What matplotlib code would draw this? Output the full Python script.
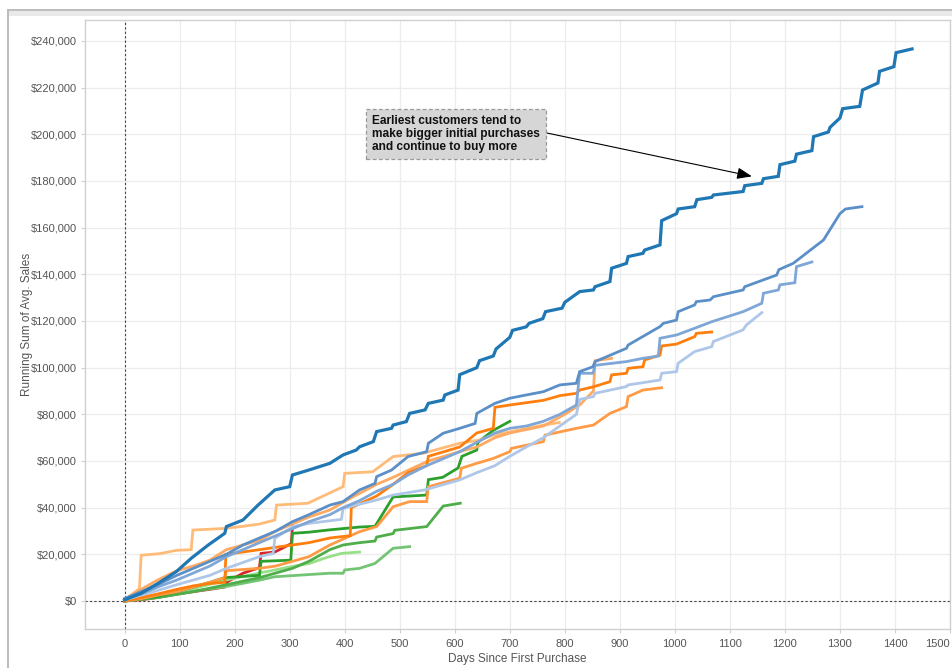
import matplotlib
matplotlib.use("Agg")
import matplotlib.pyplot as plt
from matplotlib.ticker import FuncFormatter
from matplotlib.patches import Rectangle

plt.rcParams['font.family'] = ['Liberation Sans', 'DejaVu Sans']

# Running sum of average sales per customer cohort, (days since first purchase, $ thousands)
cohort_01 = [(0, 0.5), (30, 3.3), (61, 7.6), (94, 12.6), (121, 18.3), (152, 24), (182, 29), (185, 31.9),
             (215, 34.7), (242, 41), (273, 47.6), (300, 49), (305, 54), (333, 56), (373, 59), (397, 62.6),
             (421, 64.7), (427, 66.1), (452, 68.3), (458, 72.6), (485, 74), (488, 75.4), (512, 76.9),
             (518, 80.4), (546, 81.9), (552, 84.7), (579, 86.1), (582, 88.3), (606, 90.4), (609, 97),
             (640, 100), (645, 103), (670, 105), (675, 108), (700, 113), (705, 116), (730, 117.5),
             (735, 119), (760, 121), (765, 124), (795, 125.5), (800, 128), (827, 132.6), (852, 133.3),
             (855, 134.7), (882, 136.9), (885, 142.6), (912, 144.7), (915, 147.6), (942, 149), (945, 150.4),
             (973, 152.6), (976, 163), (1003, 166), (1006, 168), (1036, 169), (1040, 172), (1067, 173),
             (1070, 174), (1124, 175.5), (1127, 178), (1158, 179), (1161, 181), (1188, 182), (1191, 187),
             (1218, 188.5), (1221, 191.5), (1249, 193), (1252, 199), (1279, 201), (1282, 203), (1300, 207),
             (1305, 211), (1336, 212), (1341, 219), (1369, 222), (1372, 227), (1398, 229), (1402, 235),
             (1431, 236.6)]
cohort_02 = [(0, 1), (30, 4), (60, 7), (95, 11), (125, 14), (155, 17), (185, 20), (215, 24), (245, 27),
             (275, 30), (305, 34), (335, 37), (373, 41.1), (397, 42.6), (427, 47.6), (455, 50.4),
             (458, 53.3), (485, 56.1), (515, 61.9), (549, 64), (552, 67.6), (579, 71.9), (609, 74),
             (637, 76.1), (640, 80.4), (673, 84.7), (700, 86.9), (730, 88.3), (761, 89.7), (791, 92.6),
             (821, 93.3), (827, 98.3), (851, 100.4), (855, 102.6), (912, 108.3), (915, 109.7), (973, 117.6),
             (979, 119), (1003, 120.4), (1006, 124), (1036, 126.9), (1039, 128.3), (1064, 129),
             (1070, 130.4), (1124, 133.3), (1127, 134.7), (1185, 139.7), (1189, 142), (1215, 144.7),
             (1270, 154.7), (1300, 166), (1310, 168), (1340, 169)]
cohort_03 = [(0, 1), (30, 3), (60, 6), (95, 9), (125, 12), (155, 15), (185, 19), (215, 22), (245, 25),
             (275, 28), (305, 31), (335, 34), (373, 37), (397, 40), (427, 43), (458, 47), (488, 50),
             (515, 54), (549, 58), (579, 61), (609, 64), (640, 68), (673, 72), (700, 74), (730, 75),
             (761, 77), (791, 80), (821, 84), (827, 97.6), (851, 97.6), (855, 101), (912, 102.6),
             (942, 104), (970, 105), (973, 112.6), (1003, 114), (1036, 116.9), (1067, 119.7), (1124, 124),
             (1158, 127.6), (1161, 131.9), (1188, 133.3), (1191, 135.5), (1218, 136.4), (1221, 143.3),
             (1249, 145.3)]
cohort_04 = [(0, 0.5), (30, 2.5), (60, 4.5), (95, 7), (125, 9), (155, 11), (185, 14), (245, 19),
             (270, 20.4), (273, 26.9), (306, 31.9), (336, 33.3), (394, 35), (397, 39.7), (458, 43.3),
             (488, 45.4), (545, 47.6), (609, 51.9), (640, 55), (673, 58), (700, 62), (730, 66), (761, 70),
             (791, 75), (821, 80), (827, 86.4), (852, 87.6), (855, 89), (912, 91.9), (915, 92.6), (973, 94.7),
             (976, 97.6), (1003, 98.3), (1006, 101.9), (1036, 106.9), (1067, 109), (1070, 111.2),
             (1124, 116.2), (1130, 118.3), (1158, 123.6)]
cohort_05 = [(0, 0), (30, 1.5), (60, 3), (95, 5), (125, 6.5), (155, 7.5), (182, 8), (184, 20), (215, 21),
             (245, 22), (275, 23), (305, 24), (335, 25), (373, 27), (410, 28), (412, 40), (458, 45),
             (488, 50), (515, 55), (549, 58), (552, 62), (609, 66), (640, 72), (670, 74), (673, 83),
             (700, 84), (761, 86), (791, 88), (821, 89), (827, 90.4), (852, 91.8), (882, 94), (885, 96.9),
             (912, 97.6), (915, 99.7), (942, 100.4), (945, 103.3), (973, 105.4), (976, 109.3), (1003, 110.1),
             (1036, 113.3), (1039, 114.7), (1067, 115.3)]
cohort_06 = [(0, 0), (30, 1), (60, 2.5), (95, 4), (125, 6), (155, 8), (182, 10), (185, 13), (245, 14),
             (275, 15), (305, 17), (335, 19), (373, 24), (427, 29.7), (458, 31.9), (488, 40.4), (518, 42.6),
             (549, 42.6), (552, 49), (609, 52.6), (612, 56.9), (640, 59), (670, 61.1), (700, 64),
             (703, 65.4), (761, 68.3), (764, 71.1), (821, 74), (852, 75.4), (882, 80.4), (912, 83.3),
             (915, 87.6), (942, 90.4), (976, 91.4)]
cohort_07 = [(0, 0.5), (30, 5), (60, 9), (95, 13), (125, 15), (155, 17.5), (185, 22), (215, 24), (245, 26),
             (275, 30), (305, 33), (335, 36), (373, 39), (410, 44), (458, 50), (488, 53), (515, 56),
             (552, 60), (609, 64), (640, 66), (673, 70), (700, 72), (761, 75), (800, 80), (827, 84),
             (852, 90), (855, 103), (885, 104)]
cohort_08 = [(0, 0.5), (27, 5.3), (30, 19.6), (64, 20.3), (94, 21.7), (121, 22), (124, 30.4), (182, 31.1),
             (215, 32), (245, 33), (273, 34.7), (276, 41.1), (333, 41.9), (397, 49), (400, 54.7),
             (451, 55.4), (488, 61.9), (542, 63.3), (609, 67.6), (645, 69), (670, 71.1), (700, 72.5),
             (761, 75.4), (790, 76.5)]
cohort_09 = [(0, 0), (30, 1), (60, 2), (95, 4), (125, 6), (155, 8), (182, 10), (245, 11), (248, 17),
             (302, 17.5), (305, 29), (335, 29.5), (373, 30.5), (427, 31.7), (455, 32), (488, 44.6),
             (549, 45.4), (552, 52), (578, 53), (606, 57), (613, 62), (640, 64.7), (642, 68), (669, 73),
             (700, 77)]
cohort_10 = [(0, 0), (60, 1.5), (125, 4), (185, 7), (245, 10), (305, 14), (335, 17), (373, 22), (397, 24),
             (427, 25), (455, 25.7), (458, 27.4), (488, 28.9), (491, 30.3), (549, 31.9), (579, 40.7),
             (610, 41.9)]
cohort_11 = [(0, 0), (60, 1.5), (120, 4), (180, 6), (242, 8.8), (273, 10.4), (373, 11.9), (397, 11.9),
             (400, 13.3), (427, 14), (455, 16.1), (488, 22.6), (518, 23.3)]
cohort_12 = [(0, 0), (60, 2), (120, 5), (185, 9), (245, 12), (273, 13.3), (300, 14.6), (336, 16.1),
             (365, 18.5), (394, 20.4), (427, 21)]
cohort_13 = [(0, 0), (30, 0.5), (60, 1.5), (95, 3), (125, 4), (155, 5), (182, 6), (185, 8), (215, 11.9),
             (245, 14.3), (248, 20.4), (273, 21), (303, 24.6), (305, 31.9)]

cohorts = [cohort_01, cohort_02, cohort_03, cohort_04, cohort_05, cohort_06, cohort_07,
           cohort_08, cohort_09, cohort_10, cohort_11, cohort_12, cohort_13]
colors = ['#1f77b4', '#5a8fc8', '#7ea6d6', '#aec7e8',
          '#ff7f0e', '#ff9a45', '#ffaa62', '#ffbb78',
          '#2ca02c', '#4fae4a', '#74c476', '#98df8a',
          '#d62728']

x_ticks = list(range(0, 1501, 100))
y_ticks = list(range(0, 240001, 20000))

annotation_text = "Earliest customers tend to\nmake bigger initial purchases\nand continue to buy more"

W, H = 953, 668
fig = plt.figure(figsize=(W / 100, H / 100), dpi=100)

# window frame around the view
fig.patches.append(Rectangle((7 / W, 0), 2 / W, 1 - 9 / H, transform=fig.transFigure,
                             color='#bdbdbd', lw=0, zorder=0))
fig.patches.append(Rectangle((7 / W, 1 - 11 / H), 1 - 7 / W, 2 / H, transform=fig.transFigure,
                             color='#bdbdbd', lw=0, zorder=0))
fig.patches.append(Rectangle((9 / W, 1 - 16 / H), 1 - 9 / W, 5 / H, transform=fig.transFigure,
                             color='#e9e9e9', lw=0, zorder=0))

ax = fig.add_axes([85 / W, 1 - 629 / H, (950 - 85) / W, (629 - 20) / H])
ax.set_xlim(-72, 1500)
ax.set_ylim(-12000, 249000)

for s in ax.spines.values():
    s.set_color('#d0d0d0')
    s.set_linewidth(1.0)

ax.set_xticks(x_ticks)
ax.set_yticks(y_ticks)
ax.yaxis.set_major_formatter(FuncFormatter(lambda v, p: '${:,.0f}'.format(v)))
ax.tick_params(axis='both', colors='#d0d0d0', labelcolor='#555555', labelsize=8, length=3, width=0.8)
ax.tick_params(axis='x', pad=4)
ax.tick_params(axis='y', pad=3)
ax.get_xticklabels()[-1].set_horizontalalignment('right')
ax.get_xticklabels()[-1].set_x(1500)
ax.grid(True, color='#ececec', linewidth=0.9)
ax.set_axisbelow(True)

ax.axvline(0, color='#444444', lw=0.8, ls=(0, (2, 2)), zorder=1)
ax.axhline(0, color='#444444', lw=0.8, ls=(0, (2, 2)), zorder=1)

for i in range(len(cohorts) - 1, -1, -1):
    pts = cohorts[i]
    xs = [p[0] for p in pts]
    ys = [p[1] * 1000 for p in pts]
    ax.plot(xs, ys, color=colors[i], lw=2.3 if i == 0 else 2.0, solid_joinstyle='miter',
            zorder=3 + (len(cohorts) - i) * 0.01)

ax.set_xlabel('Days Since First Purchase', fontsize=8.5, color='#555555', labelpad=3)
ax.set_ylabel('Running Sum of Avg. Sales', fontsize=8.5, color='#555555', labelpad=-2)

ax.annotate('', xy=(1140, 182000), xytext=(767, 200600),
            arrowprops=dict(arrowstyle='-|>,head_length=0.9,head_width=0.35', color='black', lw=0.8,
                            shrinkA=0, shrinkB=0), zorder=6)
ax.text(449, 208300, annotation_text, fontsize=8.6, fontweight='bold', color='#111111',
        va='top', ha='left', linespacing=1.12, zorder=7,
        bbox=dict(boxstyle='square,pad=0.5', facecolor='#d6d6d6', edgecolor='#999999',
                  linestyle=(0, (3, 2)), linewidth=0.9))

fig.savefig('out.png', dpi=100)
